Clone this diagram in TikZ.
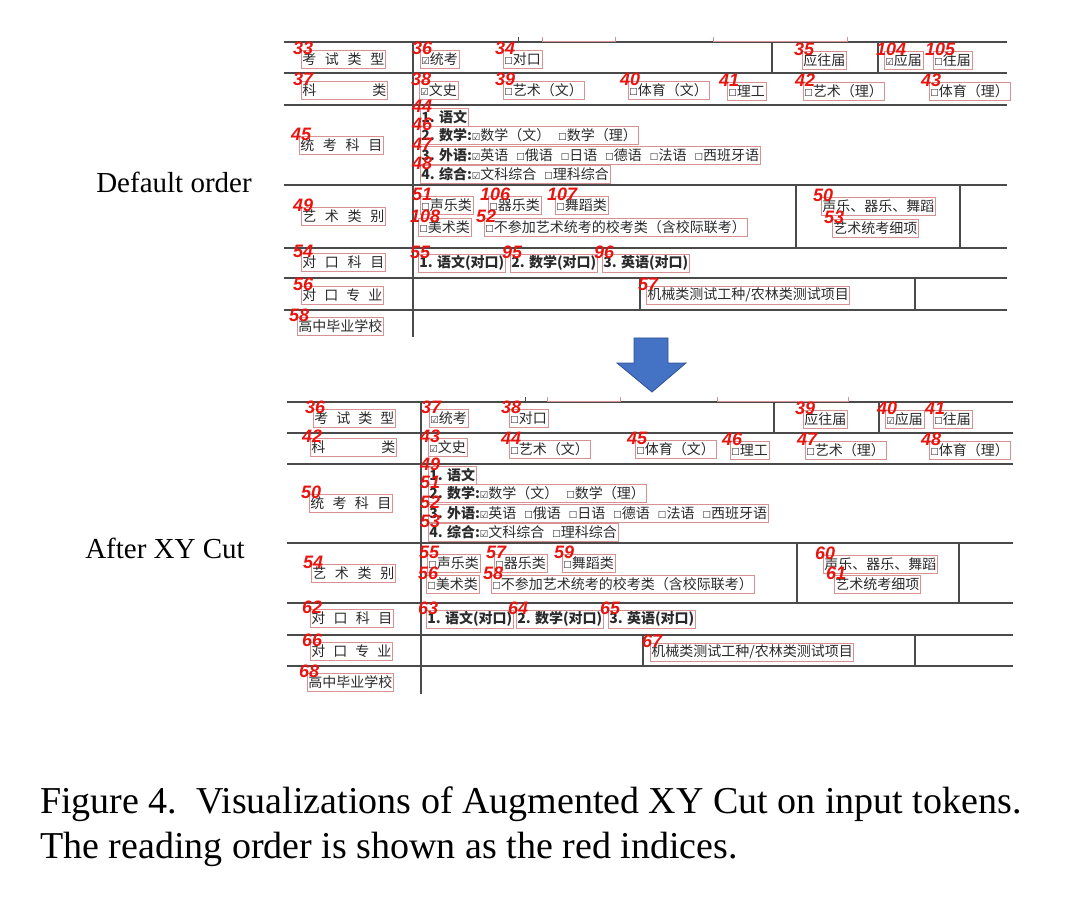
\documentclass[tikz,border=0pt]{standalone}
\usepackage{fontspec}
\setmainfont{Liberation Serif}
\setsansfont{Liberation Sans}
\newfontfamily\cjk{Noto Sans CJK SC}
\newfontfamily\symfont{DejaVu Sans}
\usepackage{tikz}
\usetikzlibrary{calc}
\definecolor{ruleline}{HTML}{4A4A4A}
\definecolor{tokred}{HTML}{D99090}
\definecolor{idxred}{HTML}{E8140F}
\definecolor{inkgrey}{HTML}{2A2A2A}
\definecolor{arrowblue}{HTML}{4472C4}
\definecolor{arrowedge}{HTML}{2F528F}
\newcommand\ckoff{{\symfont\fontsize{9.5}{9.5}\selectfont ☐}}
\newcommand\ckon{{\symfont\fontsize{9.5}{9.5}\selectfont ☑}}
\newcommand\gapsep{\hspace{8pt}}
\newcommand\spreadcell[2]{\makebox[#1][s]{#2}}
\tikzset{
  rule/.style     = {draw=ruleline, line width=1.2pt},
  cutbox/.style   = {draw=tokred, line width=0.6pt},
  tok/.style      = {draw=tokred, line width=0.6pt, anchor=west, inner xsep=1pt,
                     inner ysep=0pt, minimum height=18pt, text=inkgrey,
                     font=\cjk\fontsize{14}{14}\selectfont},
  tokb/.style     = {tok, font=\cjk\bfseries\fontsize{14}{14}\selectfont},
  idx/.style      = {font=\sffamily\bfseries\itshape\fontsize{18}{18}\selectfont,
                     text=idxred, inner sep=0pt, anchor=south west},
  sidelab/.style  = {font=\fontsize{29}{29}\selectfont, inner sep=0pt},
  capline/.style  = {font=\fontsize{38}{38}\selectfont, anchor=base west, inner sep=0pt},
}

\begin{document}
\begin{tikzpicture}[x=1pt, y=-1pt]
  \useasboundingbox (0,0) rectangle (1080,904);

  % ---------- side labels ---------------------------------------------
  \node[sidelab] (deflab) at (174,182) {Default order};
  \node[sidelab] (xylab)  at (165,548) {After XY Cut};

  % ---------- upper table: rules --------------------------------------
  \foreach \y in {42,73,105,185,248,278,310}
    {\draw[rule] (284,\y) -- (1007,\y);}
  \draw[rule] (413,42) -- (413,337);
  \draw[rule] (772,42) -- (772,73);   \draw[rule] (878,42) -- (878,73);
  \draw[rule] (796,185) -- (796,248); \draw[rule] (960,185) -- (960,248);
  \draw[rule] (640,278) -- (640,310); \draw[rule] (915,278) -- (915,310);
  % cropped remains along the top edge
  \draw[cutbox] (542,37) |- (615,41) -- (615,37);
  \draw[cutbox] (713,37) |- (847,41) -- (847,37);
  \draw[ruleline, line width=0.8pt] (518,37) -- (518,42);

  % ---------- upper table: tokens -------------------------------------
  \node[tok] (a33)  at (301,59) {\spreadcell{82pt}{考\hfill 试\hfill 类\hfill 型}};
  \node[tok] (a36)  at (420,59) {\ckon 统考};
  \node[tok] (a34)  at (503,59) {\ckoff 对口};
  \node[tok] (a35)  at (802,60) {应往届};
  \node[tok] (a104) at (884,60) {\ckon 应届};
  \node[tok] (a105) at (933,60) {\ckoff 往届};
  \node[tok] (a37)  at (301,90) {\spreadcell{84pt}{科\hfill 类}};
  \node[tok] (a38)  at (419,90) {\ckon 文史};
  \node[tok] (a39)  at (503,90) {\ckoff 艺术（文）};
  \node[tok] (a40)  at (628,90) {\ckoff 体育（文）};
  \node[tok] (a41)  at (727,91) {\ckoff 理工};
  \node[tok] (a42)  at (803,91) {\ckoff 艺术（理）};
  \node[tok] (a43)  at (929,91) {\ckoff 体育（理）};
  \node[tok] (a45)  at (299,145) {\spreadcell{82pt}{统\hfill 考\hfill 科\hfill 目}};
  \node[tokb] (a44) at (420,117) {1. 语文};
  \node[tok] (a46)  at (420,135) {\textbf{2. 数学:}\ckon 数学（文）\gapsep\ckoff 数学（理）};
  \node[tok] (a47)  at (420,155)
    {\textbf{3. 外语:}\ckon 英语\gapsep\ckoff 俄语\gapsep\ckoff 日语\gapsep\ckoff 德语\gapsep\ckoff 法语\gapsep\ckoff 西班牙语};
  \node[tok] (a48)  at (420,174) {\textbf{4. 综合:}\ckon 文科综合\gapsep\ckoff 理科综合};
  \node[tok] (a49)  at (301,216) {\spreadcell{82pt}{艺\hfill 术\hfill 类\hfill 别}};
  \node[tok] (a51)  at (420,205) {\ckoff 声乐类};
  \node[tok] (a106) at (488,205) {\ckoff 器乐类};
  \node[tok] (a107) at (555,205) {\ckoff 舞蹈类};
  \node[tok] (a108) at (418,227) {\ckoff 美术类};
  \node[tok] (a52)  at (484,227) {\ckoff 不参加艺术统考的校考类（含校际联考）};
  \node[tok] (a50)  at (821,206) {声乐、器乐、舞蹈};
  \node[tok] (a53)  at (832,228) {艺术统考细项};
  \node[tok] (a54)  at (301,262) {\spreadcell{82pt}{对\hfill 口\hfill 科\hfill 目}};
  \node[tokb] (a55) at (418,263) {1. 语文(对口)};
  \node[tokb] (a95) at (510,263) {2. 数学(对口)};
  \node[tokb] (a96) at (602,263) {3. 英语(对口)};
  \node[tok] (a56)  at (301,295) {\spreadcell{80pt}{对\hfill 口\hfill 专\hfill 业}};
  \node[tok] (a57)  at (646,295) {机械类测试工种/农林类测试项目};
  \node[tok] (a58)  at (297,326) {高中毕业学校};

  \foreach \i in {33,36,34,35,104,105,37,38,39,40,41,42,43,45,44,46,47,48,
                  49,51,106,107,108,52,50,53,54,55,95,96,56,57,58}
    {\node[idx] at ($(a\i.north west)+(-8,5)$) {\i};}

  % ---------- arrow ----------------------------------------------------
  \filldraw[fill=arrowblue, draw=arrowedge, line width=0.8pt]
    (634,338) -- (668,338) -- (668,363) -- (686,363) -- (652,392)
    -- (617,363) -- (634,363) -- cycle;

  % ---------- lower table: rules --------------------------------------
  \foreach \y in {402,433,464,543,603,635,666}
    {\draw[rule] (287,\y) -- (1013,\y);}
  \draw[rule] (421,402) -- (421,694);
  \draw[rule] (774,402) -- (774,433); \draw[rule] (879,402) -- (879,433);
  \draw[rule] (797,543) -- (797,603); \draw[rule] (959,543) -- (959,603);
  \draw[rule] (643,635) -- (643,666); \draw[rule] (915,635) -- (915,666);
  \draw[cutbox] (547,397) |- (620,401) -- (620,397);
  \draw[cutbox] (717,397) |- (848,401) -- (848,397);
  \draw[ruleline, line width=0.8pt] (525,397) -- (525,402);

  % ---------- lower table: tokens -------------------------------------
  \node[tok] (b36) at (313,418) {\spreadcell{80pt}{考\hfill 试\hfill 类\hfill 型}};
  \node[tok] (b37) at (429,418) {\ckon 统考};
  \node[tok] (b38) at (509,418) {\ckoff 对口};
  \node[tok] (b39) at (803,419) {应往届};
  \node[tok] (b40) at (885,419) {\ckon 应届};
  \node[tok] (b41) at (933,419) {\ckoff 往届};
  \node[tok] (b42) at (310,447) {\spreadcell{84pt}{科\hfill 类}};
  \node[tok] (b43) at (428,447) {\ckon 文史};
  \node[tok] (b44) at (509,449) {\ckoff 艺术（文）};
  \node[tok] (b45) at (635,449) {\ckoff 体育（文）};
  \node[tok] (b46) at (730,450) {\ckoff 理工};
  \node[tok] (b47) at (805,450) {\ckoff 艺术（理）};
  \node[tok] (b48) at (929,450) {\ckoff 体育（理）};
  \node[tok] (b50) at (309,503) {\spreadcell{81pt}{统\hfill 考\hfill 科\hfill 目}};
  \node[tokb] (b49) at (428,475) {1. 语文};
  \node[tok] (b51) at (428,493) {\textbf{2. 数学:}\ckon 数学（文）\gapsep\ckoff 数学（理）};
  \node[tok] (b52) at (428,513)
    {\textbf{3. 外语:}\ckon 英语\gapsep\ckoff 俄语\gapsep\ckoff 日语\gapsep\ckoff 德语\gapsep\ckoff 法语\gapsep\ckoff 西班牙语};
  \node[tok] (b53) at (428,532) {\textbf{4. 综合:}\ckon 文科综合\gapsep\ckoff 理科综合};
  \node[tok] (b54) at (311,573) {\spreadcell{82pt}{艺\hfill 术\hfill 类\hfill 别}};
  \node[tok] (b55) at (427,563) {\ckoff 声乐类};
  \node[tok] (b57) at (494,563) {\ckoff 器乐类};
  \node[tok] (b59) at (562,563) {\ckoff 舞蹈类};
  \node[tok] (b56) at (426,584) {\ckoff 美术类};
  \node[tok] (b58) at (491,584) {\ckoff 不参加艺术统考的校考类（含校际联考）};
  \node[tok] (b60) at (823,564) {声乐、器乐、舞蹈};
  \node[tok] (b61) at (834,584) {艺术统考细项};
  \node[tok] (b62) at (310,618) {\spreadcell{81pt}{对\hfill 口\hfill 科\hfill 目}};
  \node[tokb] (b63) at (426,619) {1. 语文(对口)};
  \node[tokb] (b64) at (516,619) {2. 数学(对口)};
  \node[tokb] (b65) at (608,619) {3. 英语(对口)};
  \node[tok] (b66) at (310,651) {\spreadcell{80pt}{对\hfill 口\hfill 专\hfill 业}};
  \node[tok] (b67) at (650,652) {机械类测试工种/农林类测试项目};
  \node[tok] (b68) at (307,682) {高中毕业学校};

  \foreach \i in {36,...,68}
    {\node[idx] at ($(b\i.north west)+(-8,5)$) {\i};}

  % ---------- caption --------------------------------------------------
  \node[capline] (cap1) at (40,813)
    {Figure 4.\ \ Visualizations of Augmented XY Cut on input tokens.};
  \node[capline] (cap2) at (40,858) {The reading order is shown as the red indices.};

\end{tikzpicture}
\end{document}
